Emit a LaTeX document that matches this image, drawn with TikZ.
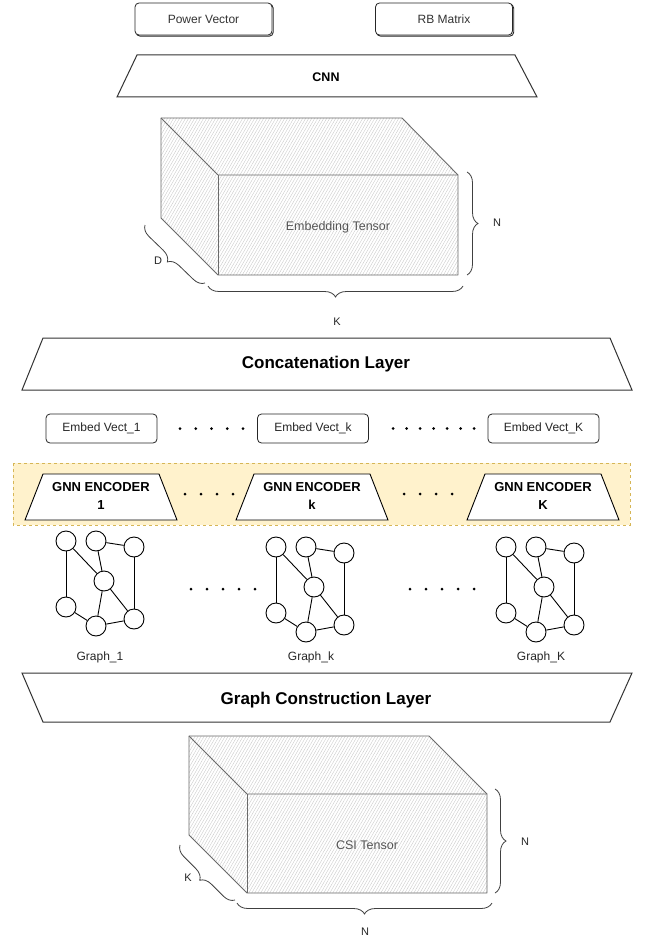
\documentclass[tikz,border=0pt]{standalone}
\usepackage{fontspec}
\setmainfont{Liberation Sans}
\usetikzlibrary{decorations.pathreplacing,patterns.meta,shadows}
\definecolor{bandfill}{HTML}{FFF2CC}
\definecolor{bandline}{HTML}{D6B656}
\definecolor{edgegray}{HTML}{6A6A6A}
\definecolor{txtgray}{HTML}{555555}
\begin{document}
\begin{tikzpicture}[x=1pt,y=-1pt,
  every node/.style={inner sep=0pt},
  topbox/.style={draw=black!85, line width=0.8pt, rounded corners=4pt, fill=white,
    minimum width=137pt, minimum height=32pt, font=\fontsize{12}{14}\selectfont, text=black!80,
    copy shadow={shadow xshift=1.2pt, shadow yshift=-1.2pt, draw=black!85, line width=0.9pt}},
  layer/.style={draw=black!80, line width=1pt, fill=white},
  layertxt/.style={font=\bfseries\fontsize{17}{20}\selectfont},
  vecbox/.style={draw=black!85, line width=0.8pt, rounded corners=4pt, fill=white,
    minimum width=111pt, minimum height=29pt, font=\fontsize{12}{14}\selectfont, text=black!85},
  enc/.style={draw=black, line width=0.9pt, fill=white},
  enctxt/.style={font=\bfseries\fontsize{13}{18}\selectfont, align=center},
  gnode/.style={circle, draw=black, line width=0.9pt, fill=white, minimum size=20pt},
  gedge/.style={draw=black, line width=0.9pt},
  glabel/.style={font=\fontsize{12}{14}\selectfont, text=black!85},
  dot/.style={fill=black, circle, minimum size=3pt},
  hatch/.style={pattern={Lines[angle=60,distance=2.6pt,line width=0.35pt]}, pattern color=black!22},
  tedge/.style={draw=edgegray, line width=0.9pt, line join=round},
  ttxt/.style={font=\fontsize{12.5}{14}\selectfont, text=txtgray},
  brc/.style={decorate, decoration={brace, amplitude=11pt}, draw=black!75, line width=0.8pt},
  blabel/.style={font=\fontsize{11}{13}\selectfont, text=black!85}]
\useasboundingbox[fill=white] (0,0) rectangle (647,939);

% top inputs
\node[topbox] (pv) at (203.5,19) {Power Vector};
\node[topbox] (rb) at (444,19) {RB Matrix};

% CNN
\draw[layer] (137,55) -- (515,55) -- (537,97) -- (117,97) -- cycle;
\node[font=\bfseries\fontsize{12.5}{14}\selectfont] (cnn) at (326,77) {CNN};

% Embedding tensor
\coordinate (eBTL) at (161,118);
\coordinate (eBTR) at (402,118);
\coordinate (eFTL) at (218,175);
\coordinate (eFTR) at (458,175);
\coordinate (eFBL) at (218,275);
\coordinate (eFBR) at (458,275);
\coordinate (eBBL) at (161,218);
\fill[white] (eBTL) -- (eBTR) -- (eFTR) -- (eFBR) -- (eFBL) -- (eBBL) -- cycle;
\fill[hatch] (eBTL) -- (eBTR) -- (eFTR) -- (eFBR) -- (eFBL) -- (eBBL) -- cycle;
\draw[tedge] (eBTL) -- (eBTR) -- (eFTR) -- (eFBR) -- (eFBL) -- (eBBL) -- cycle;
\draw[tedge] (eBTL) -- (eFTL) -- (eFTR);
\draw[tedge] (eFTL) -- (eFBL);
\node[ttxt] (embt) at (338,227) {Embedding Tensor};
\coordinate (eNa) at (467,172);
\coordinate (eNb) at (467,275);
\draw[brc] (eNa) -- (eNb);
\node[blabel] (eN) at (497,223) {N};
\coordinate (eDa) at (205,283);
\coordinate (eDb) at (145,225);
\draw[brc] (eDa) -- (eDb);
\node[blabel] (eD) at (158,261) {D};
\coordinate (eKa) at (463,286);
\coordinate (eKb) at (208,286);
\draw[brc] (eKa) -- (eKb);
\node[blabel] (eK) at (337,322) {K};

% Concatenation layer
\draw[layer] (43,338) -- (610,338) -- (632,390) -- (22,390) -- cycle;
\node[layertxt] (concat) at (326,364) {Concatenation Layer};

% Embed vectors
\node[vecbox] (ev1) at (101.5,428.5) {Embed Vect\_1};
\node[vecbox] (evk) at (313,428.5) {Embed Vect\_k};
\node[vecbox] (evK) at (543.5,428.5) {Embed Vect\_K};
\foreach \i in {0,...,4} {\node[dot] (da\i) at (180+15.75*\i,428.5) {};}
\foreach \i in {0,...,6} {\node[dot] (db\i) at (393+13.5*\i,428.5) {};}

% GNN band
\draw[fill=bandfill, draw=bandline, dashed, line width=0.8pt] (13,463) rectangle (630,525);
\foreach \n/\c/\t in {e1/101/1, ek/312/k, eK/543/K} {
  \draw[enc] (\c-58,474) -- (\c+58,474) -- (\c+76,520) -- (\c-76,520) -- cycle;
  \node[enctxt] (\n) at (\c,496) {GNN ENCODER\\\t};
}
\foreach \i in {0,...,3} {\node[dot] (dc\i) at (185+16*\i,494) {};}
\foreach \i in {0,...,3} {\node[dot] (dd\i) at (404+16*\i,494) {};}

% Graphs
\foreach \g/\dx/\dy in {1/0/0, k/210/6, K/440/6} {
  \begin{scope}[shift={(\dx,\dy)}]
    \node[gnode] (g\g-1) at (66,541) {};
    \node[gnode] (g\g-2) at (96,541) {};
    \node[gnode] (g\g-3) at (134,547) {};
    \node[gnode] (g\g-4) at (104,581) {};
    \node[gnode] (g\g-5) at (66,607) {};
    \node[gnode] (g\g-6) at (96,626) {};
    \node[gnode] (g\g-7) at (134,619) {};
    \draw[gedge] (g\g-1) -- (g\g-5);
    \draw[gedge] (g\g-1) -- (g\g-4);
    \draw[gedge] (g\g-2) -- (g\g-4);
    \draw[gedge] (g\g-2) -- (g\g-3);
    \draw[gedge] (g\g-3) -- (g\g-7);
    \draw[gedge] (g\g-4) -- (g\g-6);
    \draw[gedge] (g\g-4) -- (g\g-7);
    \draw[gedge] (g\g-5) -- (g\g-6);
    \draw[gedge] (g\g-6) -- (g\g-7);
  \end{scope}
}
\node[glabel] (gl1) at (100,657) {Graph\_1};
\node[glabel] (glk) at (311,657) {Graph\_k};
\node[glabel] (glK) at (541,657) {Graph\_K};
\foreach \i in {0,...,4} {\node[dot] (de\i) at (191+16*\i,589) {};}
\foreach \i in {0,...,4} {\node[dot] (df\i) at (410+16*\i,589) {};}

% Graph construction layer
\draw[layer] (22,673) -- (632,673) -- (610,722) -- (43,722) -- cycle;
\node[layertxt] (gcl) at (326,700) {Graph Construction Layer};

% CSI tensor
\coordinate (cBTL) at (189,736);
\coordinate (cBTR) at (429,736);
\coordinate (cFTL) at (247,794);
\coordinate (cFTR) at (487,794);
\coordinate (cFBL) at (247,893);
\coordinate (cFBR) at (487,893);
\coordinate (cBBL) at (189,835);
\fill[white] (cBTL) -- (cBTR) -- (cFTR) -- (cFBR) -- (cFBL) -- (cBBL) -- cycle;
\fill[hatch] (cBTL) -- (cBTR) -- (cFTR) -- (cFBR) -- (cFBL) -- (cBBL) -- cycle;
\draw[tedge] (cBTL) -- (cBTR) -- (cFTR) -- (cFBR) -- (cFBL) -- (cBBL) -- cycle;
\draw[tedge] (cBTL) -- (cFTL) -- (cFTR);
\draw[tedge] (cFTL) -- (cFBL);
\node[ttxt] (csit) at (367,845) {CSI Tensor};
\coordinate (cNa) at (495,789);
\coordinate (cNb) at (495,893);
\draw[brc] (cNa) -- (cNb);
\node[blabel] (cN) at (525,842) {N};
\coordinate (cKa) at (235,900);
\coordinate (cKb) at (180,845);
\draw[brc] (cKa) -- (cKb);
\node[blabel] (cK) at (188,878) {K};
\coordinate (cMa) at (492,903);
\coordinate (cMb) at (237,903);
\draw[brc] (cMa) -- (cMb);
\node[blabel] (cM) at (365,932) {N};
\end{tikzpicture}
\end{document}
